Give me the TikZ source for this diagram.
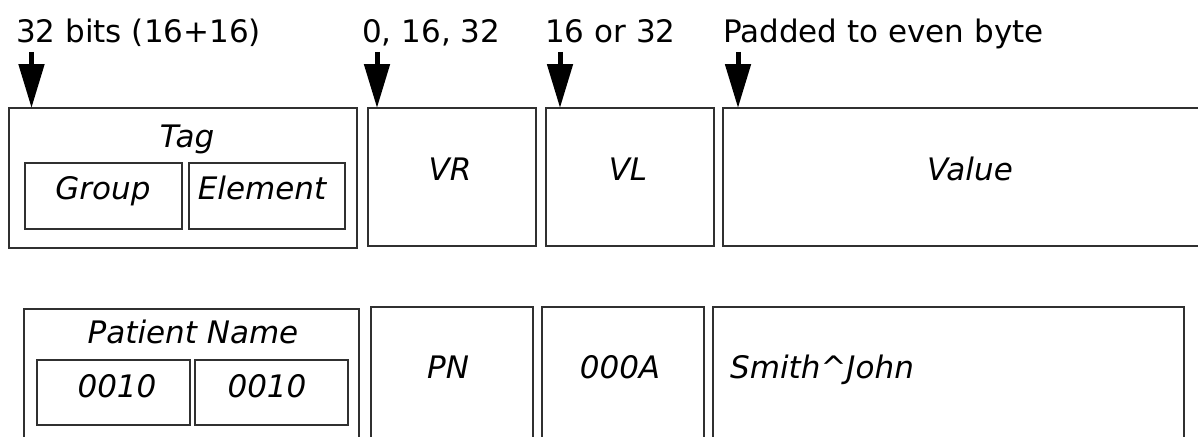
\documentclass[tikz,border=0pt]{standalone}
\usepackage{fontspec}
\setmainfont{DejaVu Sans}
\usetikzlibrary{arrows.meta}
\definecolor{boxline}{HTML}{303030}
\begin{document}
\begin{tikzpicture}[x=1pt,y=-1pt,
  box/.style={draw=boxline,line width=1.6pt,inner sep=0pt,outer sep=0pt,anchor=north west},
  lbl/.style={font=\fontsize{31}{36}\selectfont,inner sep=0pt,anchor=base west,text=black},
  itx/.style={font=\fontsize{31}{36}\selectfont\itshape,inner sep=0pt,anchor=base,text=black},
  bigarrow/.style={line width=5pt,-{Triangle[width=25pt,length=44pt]}}]
\useasboundingbox (0,0) rectangle (1198,436);
\begin{scope}
\clip (0,0) rectangle (1198,436);
% top row boxes
\node[box,minimum width=348pt,minimum height=140pt] (tag) at (9,108) {};
\node[box,minimum width=157pt,minimum height=66pt] (grp) at (25,163) {};
\node[box,minimum width=156pt,minimum height=66pt] (elem) at (189,163) {};
\node[box,minimum width=168pt,minimum height=138pt] (vr) at (368,108) {};
\node[box,minimum width=168pt,minimum height=138pt] (vl) at (546,108) {};
\node[box,minimum width=490pt,minimum height=138pt] (val) at (723,108) {};
% bottom row boxes
\node[box,minimum width=335pt,minimum height=160pt] (pn) at (24,309) {};
\node[box,minimum width=153pt,minimum height=65pt] (grp2) at (37,360) {};
\node[box,minimum width=153pt,minimum height=65pt] (elem2) at (195,360) {};
\node[box,minimum width=162pt,minimum height=160pt] (vr2) at (371,307) {};
\node[box,minimum width=162pt,minimum height=160pt] (vl2) at (542,307) {};
\node[box,minimum width=471pt,minimum height=160pt] (val2) at (713,307) {};
\end{scope}
% box texts
\node[itx] (tTag) at (187,147) {Tag};
\node[itx] (tGrp) at (103,199) {Group};
\node[itx] (tElem) at (262,199) {Element};
\node[itx] (tVR) at (450,180) {VR};
\node[itx] (tVL) at (628,180) {VL};
\node[itx] (tVal) at (970,180) {Value};
\node[itx] (tPN) at (193,343) {Patient Name};
\node[itx] (tG2) at (117,397) {0010};
\node[itx] (tE2) at (267,397) {0010};
\node[itx] (tPNv) at (448,378) {PN};
\node[itx] (tLen) at (620,378) {000A};
\node[itx,anchor=base west] (tSmith) at (730,378) {Smith\^{}John};
% labels
\node[lbl] (l1) at (16,43) {32 bits (16+16)};
\node[lbl] (l2) at (362,43) {0, 16, 32};
\node[lbl] (l3) at (545,43) {16 or 32};
\node[lbl] (l4) at (723,43) {Padded to even byte};
% arrows
\coordinate (a1) at (31.5,52);
\coordinate (a2) at (377,52);
\coordinate (a3) at (560,52);
\coordinate (a4) at (738,52);
\draw[bigarrow] (a1) -- (a1 |- tag.north);
\draw[bigarrow] (a2) -- (a2 |- vr.north);
\draw[bigarrow] (a3) -- (a3 |- vl.north);
\draw[bigarrow] (a4) -- (a4 |- val.north);
\end{tikzpicture}
\end{document}
